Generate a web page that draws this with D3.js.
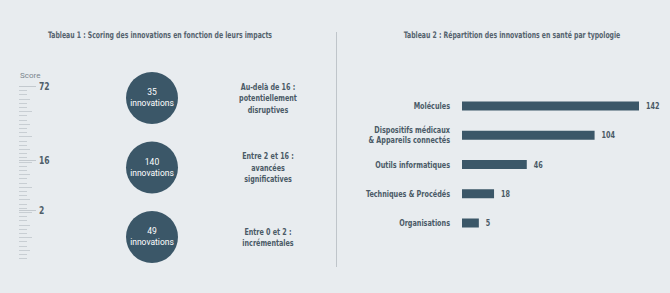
<!DOCTYPE html>
<html>
<head>
<meta charset="utf-8">
<script src="https://cdn.jsdelivr.net/npm/d3@7"></script>
<style>
  body { margin: 0; background: #e8ecef; }
  svg { display: block; }
  .cond { font-family: "DejaVu Sans Condensed", "Liberation Sans Narrow", sans-serif; }
</style>
</head>
<body>
<svg id="chart" width="670" height="293"></svg>
<script>
// Tableau 1 data
const scoreLabels = [72, 16, 2];
const groupCounts = [35, 140, 49];
const groupTexts = [
    ["Au-delà de 16 :", "potentiellement", "disruptives"],
    ["Entre 2 et 16 :", "avancées", "significatives"],
    ["Entre 0 et 2 :", "incrémentales"]
];

// Tableau 2 data
const categories = [
    ["Molécules"],
    ["Dispositifs médicaux", "& Appareils connectés"],
    ["Outils informatiques"],
    ["Techniques & Procédés"],
    ["Organisations"]
];
const values = [142, 104, 46, 18, 5];

const width = 670;
const height = 293;
const dark = "#3b5768";
const textCol = "#4a5a66";

const svg = d3.select("#chart");

svg.append("rect")
    .attr("width", width)
    .attr("height", height)
    .attr("fill", "#e8ecef");

// squeeze text horizontally around its anchor x (the original uses a narrow font)
function squeeze(sel, k) {
    sel.each(function () {
        const ax = +(this.getAttribute("x") || 0);
        const prev = this.getAttribute("transform") || "";
        this.setAttribute("transform",
            `${prev} translate(${ax},0) scale(${k},1) translate(${-ax},0)`);
    });
}

// Titles
const titles = svg.append("g")
    .selectAll("text")
    .data([
        { x: 160, t: "Tableau 1 : Scoring des innovations en fonction de leurs impacts" },
        { x: 512, t: "Tableau 2 : Répartition des innovations en santé par typologie" }
    ])
    .join("text")
    .attr("class", "cond")
    .attr("x", d => d.x)
    .attr("y", 38)
    .attr("text-anchor", "middle")
    .attr("font-size", 9)
    .attr("font-weight", "bold")
    .attr("fill", "#55636e")
    .text(d => d.t);
squeeze(titles, 0.76);

// Divider
svg.append("line")
    .attr("x1", 336.5).attr("x2", 336.5)
    .attr("y1", 32).attr("y2", 267)
    .attr("stroke", "#bfc5ca")
    .attr("stroke-width", 1);

// ---- Tableau 1 : score ruler ----
const yScore = d3.scaleLinear()
    .domain([72, 16, 2, 0])
    .range([86, 160, 210, 261]);

svg.append("text")
    .attr("x", 20)
    .attr("y", 78)
    .attr("font-family", "Roboto, sans-serif")
    .attr("font-size", 8)
    .attr("fill", "#7a858d")
    .text("Score");

// decorative ruler ticks, evenly spaced
const tickYs = d3.range(86, 262, 4.2);
svg.append("g")
    .selectAll("line")
    .data(tickYs)
    .join("line")
    .attr("x1", 19)
    .attr("x2", (d, i) => i % 6 === 0 ? 32 : (i % 3 === 0 ? 30 : 27))
    .attr("y1", d => Math.round(d) + 0.5)
    .attr("y2", d => Math.round(d) + 0.5)
    .attr("stroke", "#c8ced3")
    .attr("stroke-width", 1);

const labelTicks = svg.append("g")
    .selectAll("g")
    .data(scoreLabels)
    .join("g")
    .attr("transform", d => `translate(0,${Math.round(yScore(d)) + 0.5})`);

labelTicks.append("line")
    .attr("x1", 19)
    .attr("x2", 36)
    .attr("stroke", "#c3c9ce");

const scoreText = labelTicks.append("text")
    .attr("class", "cond")
    .attr("x", 39)
    .attr("dy", "0.35em")
    .attr("font-size", 10)
    .attr("font-weight", "bold")
    .attr("fill", "#4f5e69")
    .text(d => d);
squeeze(scoreText, 0.85);

// circles
const yGroup = d3.scalePoint()
    .domain(d3.range(groupCounts.length))
    .range([98, 237]);

const groups = svg.append("g")
    .selectAll("g")
    .data(groupCounts)
    .join("g")
    .attr("transform", (d, i) => `translate(152,${yGroup(i)})`);

groups.append("circle")
    .attr("r", 26)
    .attr("fill", dark);

groups.append("text")
    .attr("text-anchor", "middle")
    .attr("y", -3)
    .attr("font-family", "Roboto, sans-serif")
    .attr("font-size", 8.5)
    .attr("fill", "#ffffff")
    .text(d => d);

groups.append("text")
    .attr("text-anchor", "middle")
    .attr("y", 8)
    .attr("font-family", "Roboto, sans-serif")
    .attr("font-size", 8.5)
    .attr("fill", "#ffffff")
    .text("innovations");

// group descriptions
const desc = svg.append("g")
    .selectAll("text")
    .data(groupTexts)
    .join("text")
    .attr("class", "cond")
    .attr("text-anchor", "middle")
    .attr("font-size", 9.5)
    .attr("font-weight", "bold")
    .attr("fill", textCol)
    .attr("transform", (d, i) => `translate(268,${yGroup(i)})`);
desc.selectAll("tspan")
    .data(d => d.map((t, j) => ({ t, j, n: d.length })))
    .join("tspan")
    .attr("x", 0)
    .attr("y", d => (d.j - (d.n - 1) / 2) * 11.5)
    .attr("dy", "0.35em")
    .text(d => d.t);
squeeze(desc, 0.75);

// ---- Tableau 2 : bars ----
const barStart = 462;
const xScale = d3.scaleLinear()
    .domain([0, 142])
    .range([473, 639]);

const yScale = d3.scalePoint()
    .domain(d3.range(categories.length))
    .range([106, 223]);

const rows = svg.append("g")
    .selectAll("g")
    .data(values)
    .join("g")
    .attr("transform", (d, i) => `translate(0,${yScale(i)})`);

rows.append("rect")
    .attr("x", barStart)
    .attr("y", -4.5)
    .attr("width", d => xScale(d) - barStart)
    .attr("height", 9)
    .attr("fill", dark);

const valText = rows.append("text")
    .attr("class", "cond")
    .attr("x", d => xScale(d) + 7)
    .attr("dy", "0.35em")
    .attr("font-size", 9)
    .attr("font-weight", "bold")
    .attr("fill", textCol)
    .text(d => d);
squeeze(valText, 0.8);

const catText = rows.append("text")
    .attr("class", "cond")
    .attr("x", 450)
    .attr("text-anchor", "end")
    .attr("font-size", 9)
    .attr("font-weight", "bold")
    .attr("fill", textCol);
catText.selectAll("tspan")
    .data((d, i) => categories[i].map((t, j) => ({ t, j, n: categories[i].length })))
    .join("tspan")
    .attr("x", 450)
    .attr("y", d => (d.j - (d.n - 1) / 2) * 10)
    .attr("dy", "0.35em")
    .text(d => d.t);
squeeze(catText, 0.8);
</script>
</body>
</html>
